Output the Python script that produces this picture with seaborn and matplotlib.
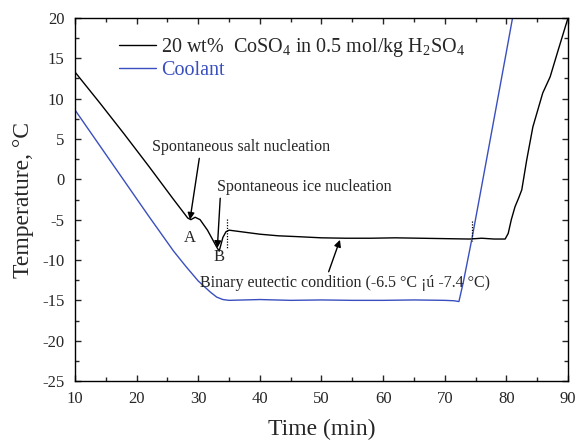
import matplotlib
matplotlib.use("Agg")
import matplotlib.pyplot as plt
from matplotlib.ticker import MultipleLocator
import seaborn as sns
import pandas as pd

# ---- data ----
black_time = [10, 14, 18, 22, 26, 28.3, 28.8, 29.5, 30.3, 31.5, 33.0, 33.4, 34.0, 34.5, 35.0,
              36, 38, 40, 43, 46, 50, 54, 58, 62, 66, 70, 74, 76, 78, 79.8,
              80.3, 80.8, 81.4, 82.0, 82.5, 83.3, 84.3, 85.1, 85.9, 87.1, 88.4, 90]
black_temp = [13.3, 9.5, 5.6, 1.6, -2.5, -4.8, -5.0, -4.7, -5.0, -6.3, -8.4, -8.9, -7.2, -6.5, -6.3,
              -6.4, -6.6, -6.8, -7.0, -7.1, -7.25, -7.3, -7.3, -7.25, -7.3, -7.35, -7.4, -7.3, -7.4, -7.4,
              -6.7, -5.0, -3.4, -2.3, -1.3, 2.4, 6.5, 8.6, 10.7, 12.7, 16.0, 20.0]

blue_time = [10, 14, 18, 22, 26, 28, 30, 32, 33, 34, 35, 40, 45, 50, 55, 60, 65, 70,
             71.5, 72.3, 73, 74.4, 76, 78, 80, 81]
blue_temp = [8.6, 4.2, -0.2, -4.6, -8.9, -10.8, -12.6, -14.0, -14.6, -14.9, -15.0, -14.9, -15.0,
             -14.95, -15.0, -15.0, -14.95, -15.0, -15.05, -15.15, -12.8, -7.4, -0.8, 7.5, 15.8, 20.0]

series_labels = ["20 wt%  CoSO$_4$ in 0.5 mol/kg H$_2$SO$_4$", "Coolant"]
x_ticks = [10, 20, 30, 40, 50, 60, 70, 80, 90]
y_ticks = [-25, -20, -15, -10, -5, 0, 5, 10, 15, 20]

BLACK = "#000000"
BLUE = "#3a4fbf"

sns.set_style("ticks")
plt.rcParams["font.family"] = ["Liberation Serif", "DejaVu Serif"]
plt.rcParams["mathtext.fontset"] = "custom"
plt.rcParams["mathtext.rm"] = "Liberation Serif"
plt.rcParams["mathtext.it"] = "Liberation Serif"
plt.rcParams["axes.unicode_minus"] = False

fig = plt.figure(figsize=(5.79, 4.43), dpi=100)
ax = fig.add_axes([0.1295, 0.1399, 0.8515, 0.8195])

df_b = pd.DataFrame({"time": black_time, "temp": black_temp})
df_c = pd.DataFrame({"time": blue_time, "temp": blue_temp})
sns.lineplot(data=df_b, x="time", y="temp", ax=ax, color=BLACK, lw=1.0,
             estimator=None, sort=False, label=series_labels[0])
sns.lineplot(data=df_c, x="time", y="temp", ax=ax, color=BLUE, lw=1.0,
             estimator=None, sort=False, label=series_labels[1])

ax.set_xlim(10, 90)
ax.set_ylim(-25, 20)
ax.set_xticks(x_ticks)
ax.set_yticks(y_ticks)
ax.xaxis.set_minor_locator(MultipleLocator(5))
ax.yaxis.set_minor_locator(MultipleLocator(2.5))
ax.tick_params(which="both", direction="in", top=True, right=True, labelsize=12, width=1.0, pad=7.5)
ax.tick_params(which="major", length=4.3)
ax.tick_params(which="minor", length=2.8)
for s in ax.spines.values():
    s.set_linewidth(1.0)
    s.set_color("black")

ax.set_xlabel("Time (min)", fontsize=17, labelpad=8)
ax.set_ylabel("Temperature, °C", fontsize=17, labelpad=6)

leg = ax.legend(loc="upper left", bbox_to_anchor=(0.057, 0.995), frameon=False, fontsize=14.5,
                handlelength=1.85, handletextpad=0.25, labelspacing=0.1, borderpad=0.3)
leg.get_texts()[1].set_color(BLUE)

# vertical dotted markers
ax.plot([34.6, 34.6], [-4.9, -8.5], ls=(0, (1, 1.2)), color="black", lw=0.9)
ax.plot([74.4, 74.4], [-5.2, -7.6], ls=(0, (1, 1.2)), color="black", lw=0.9)

arrow = dict(arrowstyle="-|>", color="black", lw=1.0, mutation_scale=10, shrinkA=0, shrinkB=0)
fs = 11.5
ax.annotate("Spontaneous salt nucleation", xy=(28.66, -5.0), xytext=(36.9, 4.0),
            ha="center", va="center", fontsize=fs, arrowprops=dict(arrow, relpos=(0.27, 0.0)))
ax.annotate("Spontaneous ice nucleation", xy=(33.1, -8.5), xytext=(47.2, -0.95),
            ha="center", va="center", fontsize=fs, arrowprops=dict(arrow, relpos=(0.02, 0.0)))
ax.annotate("Binary eutectic condition (-6.5 °C ¡ú -7.4 °C)", xy=(53.0, -7.5), xytext=(53.8, -12.85),
            ha="center", va="center", fontsize=fs, arrowprops=dict(arrow, relpos=(0.44, 1.0)))
ax.text(28.7, -7.3, "A", ha="center", va="center", fontsize=12)
ax.text(33.4, -9.6, "B", ha="center", va="center", fontsize=12)

fig.savefig("out.png", dpi=100)
